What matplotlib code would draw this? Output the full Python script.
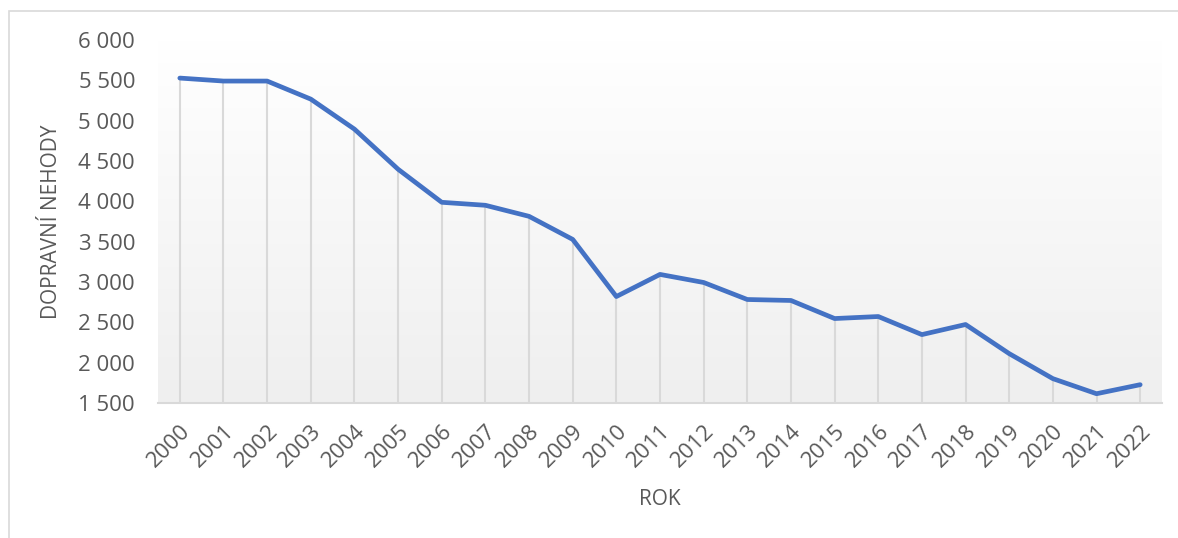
import numpy as np
import matplotlib.pyplot as plt
from matplotlib.colors import LinearSegmentedColormap
from matplotlib.patches import Rectangle

years = [str(y) for y in range(2000, 2023)]
accidents = [5528, 5491, 5491, 5267, 4895, 4398, 3988, 3951, 3814, 3528, 2820,
             3094, 2994, 2783, 2771, 2547, 2572, 2348, 2473, 2112, 1802, 1615, 1727]
y_ticks = [1500, 2000, 2500, 3000, 3500, 4000, 4500, 5000, 5500, 6000]

plt.rcParams['font.family'] = ['Open Sans', 'DejaVu Sans']
text_color = '#595959'
grid_color = '#d9d9d9'
line_color = '#4472c4'

fig = plt.figure(figsize=(11.78, 5.38), dpi=100)

# outer chart border (left and top edges visible)
fig.add_artist(Rectangle((9 / 1178, -0.1), 1.2, 1 - 11 / 538 + 0.1,
                         transform=fig.transFigure, fill=False,
                         edgecolor=grid_color, linewidth=1.2))

ax = fig.add_axes([158 / 1178, 1 - 403 / 538, (1162 - 158) / 1178, (403 - 40) / 538])

x = np.arange(len(years))
ax.set_xlim(-0.5, len(years) - 0.5)
ax.set_ylim(1500, 6000)

# vertical gradient: white at top, light gray at bottom
grad = np.linspace(0, 1, 256).reshape(-1, 1)
ax.imshow(grad, extent=[-0.5, len(years) - 0.5, 1500, 6000], aspect='auto',
          cmap=LinearSegmentedColormap.from_list('bg', ['#ffffff', '#efefef']),
          origin='upper', zorder=0)

# drop lines from each point to the axis
ax.vlines(x, 1500, accidents, color=grid_color, linewidth=1.5, zorder=1)
ax.plot(x, accidents, color=line_color, linewidth=3.4, solid_capstyle='round',
        solid_joinstyle='round', zorder=3)

for side in ['top', 'right', 'left']:
    ax.spines[side].set_visible(False)
ax.spines['bottom'].set_color(grid_color)
ax.spines['bottom'].set_linewidth(1.5)

ax.set_xticks(x)
ax.set_xticklabels(years, rotation=45, ha='right', va='top',
                   rotation_mode='anchor', fontsize=16, color=text_color)
ax.set_yticks(y_ticks)
ax.set_yticklabels([f'{v:,}'.replace(',', ' ') for v in y_ticks],
                   fontsize=16, color=text_color)
ax.tick_params(axis='both', length=0)
ax.tick_params(axis='y', pad=16.5)
ax.tick_params(axis='x', pad=13)

ax.set_xlabel('ROK', fontsize=15, color=text_color, labelpad=12)
ax.set_ylabel('DOPRAVNÍ NEHODY', fontsize=15, color=text_color, labelpad=12)

fig.savefig('out.png', dpi=100)
